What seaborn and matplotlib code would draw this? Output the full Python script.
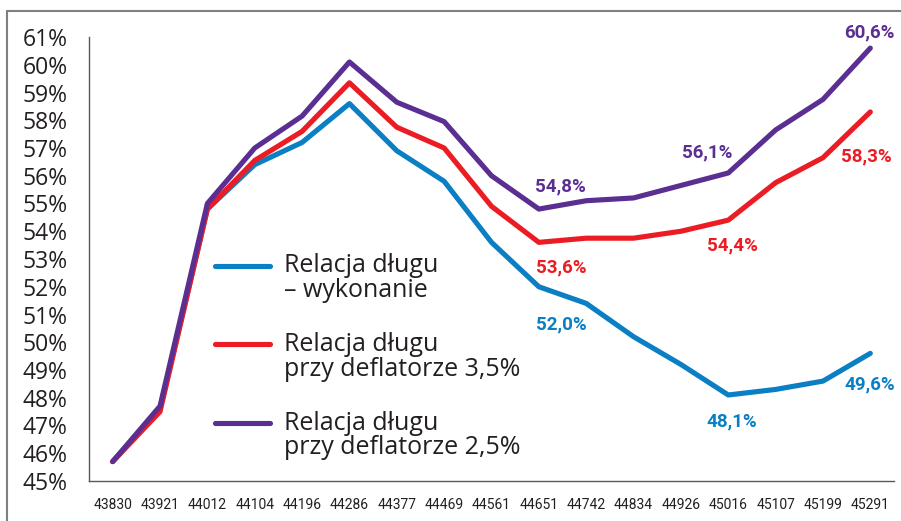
import matplotlib
matplotlib.use("Agg")
import matplotlib.pyplot as plt
from matplotlib.lines import Line2D
import seaborn as sns
import pandas as pd

# ---- data ----
categories = ["43830", "43921", "44012", "44104", "44196", "44286", "44377", "44469",
              "44561", "44651", "44742", "44834", "44926", "45016", "45107", "45199", "45291"]
wykonanie = [45.7, 47.6, 54.8, 56.4, 57.2, 58.6, 56.9, 55.8, 53.6, 52.0, 51.4, 50.2,
             49.2, 48.1, 48.3, 48.6, 49.6]
deflator35 = [45.7, 47.5, 54.8, 56.55, 57.6, 59.35, 57.75, 57.0, 54.9, 53.6, 53.75, 53.75,
              54.0, 54.4, 55.75, 56.65, 58.3]
deflator25 = [45.7, 47.7, 55.0, 57.0, 58.15, 60.1, 58.65, 57.95, 56.0, 54.8, 55.1, 55.2,
              55.65, 56.1, 57.65, 58.75, 60.6]
series_names = ["Relacja długu\n– wykonanie",
                "Relacja długu\nprzy deflatorze 3,5%",
                "Relacja długu\nprzy deflatorze 2,5%"]
y_ticks = list(range(45, 62))
y_tick_labels = [f"{v}%" for v in y_ticks]

colors = ["#0a7fc4", "#ec1c24", "#5b2e91"]

# value labels: (series index, point index, text, offset px (dx, dy))
value_labels = [
    (2, 16, "60,6%", (-1, 16)),
    (1, 16, "58,3%", (-4, -45)),
    (2, 13, "56,1%", (-21, 21)),
    (2, 9, "54,8%", (22, 23)),
    (1, 13, "54,4%", (4, -25)),
    (1, 9, "53,6%", (22, -25)),
    (0, 9, "52,0%", (22, -38)),
    (0, 13, "48,1%", (4, -26)),
    (0, 16, "49,6%", (-1, -31)),
]

df = pd.DataFrame({
    "x": categories * 3,
    "value": wykonanie + deflator35 + deflator25,
    "series": [series_names[0]] * 17 + [series_names[1]] * 17 + [series_names[2]] * 17,
})

sns.set_theme(style="white")
plt.rcParams["font.family"] = ["Open Sans", "DejaVu Sans"]

W, H = 901, 521
fig = plt.figure(figsize=(W / 100, H / 100), dpi=100)
ax = fig.add_axes([89 / W, (H - 481) / H, (894 - 89) / W, (481 - 37) / H])

sns.lineplot(data=df, x="x", y="value", hue="series", palette=colors,
             sort=False, linewidth=3.7, ax=ax, legend=False)
lines = ax.get_lines()
for z, ln in zip([2, 3, 4], lines):
    ln.set_solid_capstyle("round")
    ln.set_solid_joinstyle("round")
    ln.set_zorder(z)

ax.set_xlim(-0.5, len(categories) - 0.5)
ax.set_ylim(45, 61)
ax.set_yticks(y_ticks)
ax.set_yticklabels(y_tick_labels)
ax.set_xticks(range(len(categories)))
ax.set_xticklabels(categories)
ax.set_xlabel("")
ax.set_ylabel("")
ax.tick_params(axis="both", length=0)
ax.tick_params(axis="y", pad=48, labelsize=16.5, labelcolor="#231f20")
ax.tick_params(axis="x", pad=12, labelsize=10, labelcolor="#231f20")
for lab in ax.get_yticklabels():
    lab.set_ha("left")
for lab in ax.get_xticklabels():
    lab.set_family(["Roboto", "DejaVu Sans"])

for s in ["top", "right"]:
    ax.spines[s].set_visible(False)
for s in ["left", "bottom"]:
    ax.spines[s].set_color("#595959")
    ax.spines[s].set_linewidth(1.0)

all_series = [wykonanie, deflator35, deflator25]
for si, pi, txt, (dx, dy) in value_labels:
    ax.annotate(txt, xy=(pi, all_series[si][pi]), xytext=(dx * 0.72, dy * 0.72),
                textcoords="offset points", ha="center", va="center",
                color=colors[si], fontsize=13.5, fontweight="bold",
                family=["Roboto", "DejaVu Sans"])

# legend
handles = [Line2D([0], [0], color=c, lw=3.7, solid_capstyle="round") for c in colors]
leg = ax.legend(handles, series_names, loc="upper left",
                bbox_to_anchor=(215 / W, (H - 253) / H), bbox_transform=fig.transFigure,
                frameon=False, fontsize=18, handlelength=2.2, handletextpad=0.55,
                labelspacing=1.15, borderpad=0, borderaxespad=0)
for t in leg.get_texts():
    t.set_color("#231f20")
    t.set_linespacing(1.0)
for lh in leg.legend_handles:
    yd = lh.get_ydata()
    lh.set_ydata([v + 9.5 for v in yd])

# outer frame (top and left)
fig.add_artist(Line2D([7 / W, 1], [1 - 11 / H, 1 - 11 / H], color="#7f7f7f", lw=1.5,
                      transform=fig.transFigure))
fig.add_artist(Line2D([7 / W, 7 / W], [0, 1 - 11 / H], color="#7f7f7f", lw=1.5,
                      transform=fig.transFigure))

fig.savefig("out.png", dpi=100)
